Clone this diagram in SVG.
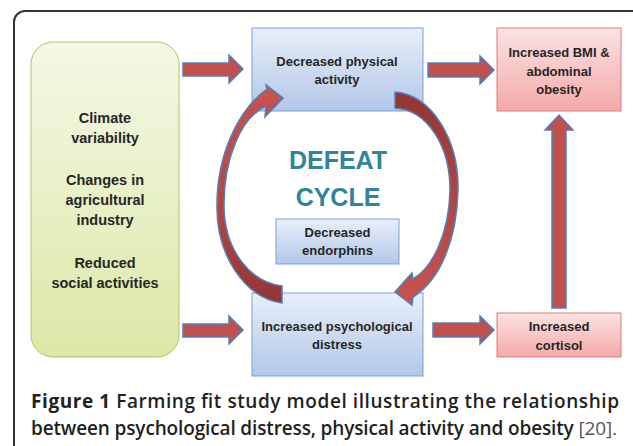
<svg xmlns="http://www.w3.org/2000/svg" width="633" height="446" viewBox="0 0 633 446">
<defs>
<linearGradient id="gGreen" x1="0" y1="0" x2="0" y2="1"><stop offset="0" stop-color="#f4f8e6"/><stop offset="1" stop-color="#dbe8a6"/></linearGradient>
<linearGradient id="gBlue" x1="0" y1="0" x2="0" y2="1"><stop offset="0" stop-color="#e8eff9"/><stop offset="1" stop-color="#b2c7e8"/></linearGradient>
<linearGradient id="gPink" x1="0" y1="0" x2="0" y2="1"><stop offset="0" stop-color="#fde3e3"/><stop offset="1" stop-color="#f4a9a9"/></linearGradient>
<linearGradient id="gArcL" x1="0" y1="1" x2="0" y2="0"><stop offset="0" stop-color="#943634"/><stop offset="0.5" stop-color="#b54846"/><stop offset="1" stop-color="#c8524f"/></linearGradient>
<linearGradient id="gArcR" x1="0" y1="0" x2="0" y2="1"><stop offset="0" stop-color="#923533"/><stop offset="0.5" stop-color="#b04644"/><stop offset="1" stop-color="#c8524f"/></linearGradient>
<style>
.t{font-family:"Liberation Sans",Arial,sans-serif;font-weight:bold;font-size:13px;fill:#262626;text-anchor:middle}
.tg{font-size:14.5px}
.box-b{fill:url(#gBlue);stroke:#7ca1d4;stroke-width:1}
.box-p{fill:url(#gPink);stroke:#dc7a7c;stroke-width:1}
.arr{fill:#c0504d;stroke:#4f81bd;stroke-width:1.5;stroke-linejoin:miter}
.defeat{font-family:"Liberation Sans",Arial,sans-serif;font-weight:bold;font-size:25px;fill:#31849b;text-anchor:middle}
.cap{font-family:"Open Sans","Liberation Sans",sans-serif;font-size:19px;font-weight:600;fill:#231f20}
</style>
</defs>
<rect x="0" y="0" width="633" height="446" fill="#ffffff"/>
<rect id="frame" x="14" y="11" width="630" height="460" rx="11" ry="11" fill="none" stroke="#333333" stroke-width="2"/>

<g id="node-factors">
<rect x="31" y="42" width="148" height="315" rx="22" ry="22" fill="url(#gGreen)" stroke="#a6c764" stroke-width="1"/>
<text class="t tg" x="105" y="123">Climate</text>
<text class="t tg" x="105" y="143">variability</text>
<text class="t tg" x="105" y="185">Changes in</text>
<text class="t tg" x="105" y="205">agricultural</text>
<text class="t tg" x="105" y="225">industry</text>
<text class="t tg" x="105" y="268">Reduced</text>
<text class="t tg" x="105" y="288">social activities</text>
</g>

<g id="node-physical">
<rect class="box-b" x="252" y="28" width="171" height="83"/>
<text class="t" x="337" y="66">Decreased physical</text>
<text class="t" x="337" y="84">activity</text>
</g>

<g id="node-bmi">
<rect class="box-p" x="497" y="28" width="124" height="83"/>
<text class="t" x="559" y="57">Increased BMI &amp;</text>
<text class="t" x="559" y="75.5">abdominal</text>
<text class="t" x="559" y="94">obesity</text>
</g>

<g id="node-defeat">
<text class="defeat" x="338" y="169">DEFEAT</text>
<text class="defeat" x="338" y="206">CYCLE</text>
</g>

<g id="node-endorphins">
<rect class="box-b" x="276" y="219" width="123" height="45"/>
<text class="t" x="337.5" y="237">Decreased</text>
<text class="t" x="337.5" y="255">endorphins</text>
</g>

<g id="node-distress">
<rect class="box-b" x="252" y="293" width="171" height="83"/>
<text class="t" x="337" y="331">Increased psychological</text>
<text class="t" x="337" y="349">distress</text>
</g>

<g id="node-cortisol">
<rect class="box-p" x="497" y="313" width="124" height="44"/>
<text class="t" x="559" y="331">Increased</text>
<text class="t" x="559" y="350">cortisol</text>
</g>

<g id="connectors">
<path class="arr" d="M183,63 H229 V55 L243,69 L229,83 V76 H183 Z"/>
<path class="arr" d="M183,324 H229 V316 L243,330 L229,344 V337 H183 Z"/>
<path class="arr" d="M428,63 H480 V56 L494,70 L480,84 V77 H428 Z"/>
<path class="arr" d="M433,323 H480 V316 L494,330 L480,344 V337 H433 Z"/>
<path class="arr" d="M552,308 V130 H545 L559,115 L573,130 H566 V308 Z"/>
<path class="arr" style="fill:url(#gArcL)" d="M282,303 C245,298 216,255 217,205 C217,155 238,110 267,89 L266,85 L283,98 L265,117 L266,106 C240,118 224,160 224,205 C224,250 250,282 282,286 Z"/>
<path class="arr" style="fill:url(#gArcR)" d="M395,92 C432,95 459,140 458,190 C457,240 440,280 413,297 L412,305 L395,292 L412,273 L413,279 C432,268 449,235 450,190 C450,145 427,110 395,108 Z"/>
</g>

<g id="caption">
<text class="cap" x="31" y="408" textLength="588" lengthAdjust="spacing"><tspan font-weight="700">Figure 1</tspan> Farming fit study model illustrating the relationship</text>
<text class="cap" x="31" y="435" textLength="586" lengthAdjust="spacing">between psychological distress, physical activity and obesity <tspan font-weight="400" fill="#555555">[20].</tspan></text>
</g>
</svg>
